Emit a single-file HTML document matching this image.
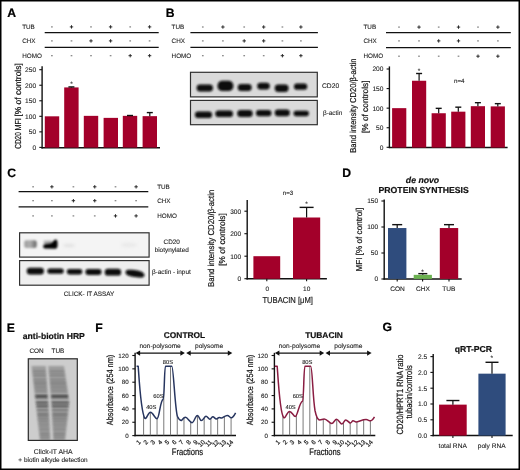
<!DOCTYPE html>
<html><head><meta charset="utf-8"><style>
html,body{margin:0;padding:0;background:#fff;}
#fig{position:relative;width:520px;height:470px;overflow:hidden;background:#fff;}
svg{position:absolute;left:0;top:0;filter:blur(0.3px);}
svg text{font-family:"Liberation Sans", sans-serif;text-rendering:geometricPrecision;}
</style></head><body>
<div id="fig">
<svg width="520" height="470" viewBox="0 0 520 470">
<rect x="0" y="0" width="520" height="470" fill="#fff"/>
<text x="7.30" y="16.80" font-size="12.2" text-anchor="start" fill="#000" stroke="#000" stroke-width="0.2" font-weight="bold">A</text>
<text x="22.20" y="29.17" font-size="6.3" text-anchor="start" fill="#222" stroke="#222" stroke-width="0.1">TUB</text>
<rect x="51.05" y="26.30" width="1.7" height="1.2" fill="#808080"/>
<path d="M 69.80,26.90 h 3.4 M 71.50,25.20 v 3.4" stroke="#222" stroke-width="0.95"/>
<rect x="90.15" y="26.30" width="1.7" height="1.2" fill="#808080"/>
<path d="M 108.90,26.90 h 3.4 M 110.60,25.20 v 3.4" stroke="#222" stroke-width="0.95"/>
<rect x="129.35" y="26.30" width="1.7" height="1.2" fill="#808080"/>
<path d="M 147.90,26.90 h 3.4 M 149.60,25.20 v 3.4" stroke="#222" stroke-width="0.95"/>
<text x="22.20" y="43.17" font-size="6.3" text-anchor="start" fill="#222" stroke="#222" stroke-width="0.1">CHX</text>
<rect x="51.05" y="40.30" width="1.7" height="1.2" fill="#808080"/>
<rect x="70.65" y="40.30" width="1.7" height="1.2" fill="#808080"/>
<path d="M 89.30,40.90 h 3.4 M 91.00,39.20 v 3.4" stroke="#222" stroke-width="0.95"/>
<path d="M 108.90,40.90 h 3.4 M 110.60,39.20 v 3.4" stroke="#222" stroke-width="0.95"/>
<rect x="129.35" y="40.30" width="1.7" height="1.2" fill="#808080"/>
<rect x="148.75" y="40.30" width="1.7" height="1.2" fill="#808080"/>
<text x="22.20" y="57.97" font-size="6.3" text-anchor="start" fill="#222" stroke="#222" stroke-width="0.1">HOMO</text>
<rect x="51.05" y="55.10" width="1.7" height="1.2" fill="#808080"/>
<rect x="70.65" y="55.10" width="1.7" height="1.2" fill="#808080"/>
<rect x="90.15" y="55.10" width="1.7" height="1.2" fill="#808080"/>
<rect x="109.75" y="55.10" width="1.7" height="1.2" fill="#808080"/>
<path d="M 128.50,55.70 h 3.4 M 130.20,54.00 v 3.4" stroke="#222" stroke-width="0.95"/>
<path d="M 147.90,55.70 h 3.4 M 149.60,54.00 v 3.4" stroke="#222" stroke-width="0.95"/>
<line x1="44.70" y1="32.60" x2="158.70" y2="32.60" stroke="#111" stroke-width="1.3"/>
<line x1="44.70" y1="47.40" x2="158.70" y2="47.40" stroke="#111" stroke-width="1.3"/>
<line x1="42.10" y1="66.30" x2="42.10" y2="148.40" stroke="#111" stroke-width="1.4"/>
<line x1="39.30" y1="147.40" x2="42.10" y2="147.40" stroke="#111" stroke-width="1.1"/>
<text x="36.10" y="149.78" font-size="6.6" text-anchor="end" fill="#222" stroke="#222" stroke-width="0.1">0</text>
<line x1="39.30" y1="131.86" x2="42.10" y2="131.86" stroke="#111" stroke-width="1.1"/>
<text x="36.10" y="134.24" font-size="6.6" text-anchor="end" fill="#222" stroke="#222" stroke-width="0.1">50</text>
<line x1="39.30" y1="116.32" x2="42.10" y2="116.32" stroke="#111" stroke-width="1.1"/>
<text x="36.10" y="118.70" font-size="6.6" text-anchor="end" fill="#222" stroke="#222" stroke-width="0.1">100</text>
<line x1="39.30" y1="100.78" x2="42.10" y2="100.78" stroke="#111" stroke-width="1.1"/>
<text x="36.10" y="103.16" font-size="6.6" text-anchor="end" fill="#222" stroke="#222" stroke-width="0.1">150</text>
<line x1="39.30" y1="85.24" x2="42.10" y2="85.24" stroke="#111" stroke-width="1.1"/>
<text x="36.10" y="87.62" font-size="6.6" text-anchor="end" fill="#222" stroke="#222" stroke-width="0.1">200</text>
<line x1="39.30" y1="69.70" x2="42.10" y2="69.70" stroke="#111" stroke-width="1.1"/>
<text x="36.10" y="72.08" font-size="6.6" text-anchor="end" fill="#222" stroke="#222" stroke-width="0.1">250</text>
<line x1="41.40" y1="147.70" x2="160.00" y2="147.70" stroke="#111" stroke-width="1.5"/>
<rect x="44.80" y="116.32" width="14.40" height="31.28" fill="#a3002a"/>
<rect x="64.20" y="87.42" width="14.40" height="60.18" fill="#a3002a"/>
<line x1="71.40" y1="87.42" x2="71.40" y2="86.95" stroke="#111" stroke-width="1.2"/>
<line x1="68.40" y1="86.95" x2="74.40" y2="86.95" stroke="#111" stroke-width="1.4"/>
<rect x="83.80" y="115.85" width="14.40" height="31.75" fill="#a3002a"/>
<rect x="103.60" y="117.87" width="14.40" height="29.73" fill="#a3002a"/>
<rect x="122.80" y="115.85" width="14.40" height="31.75" fill="#a3002a"/>
<line x1="130.00" y1="115.85" x2="130.00" y2="115.51" stroke="#111" stroke-width="1.2"/>
<line x1="127.00" y1="115.51" x2="133.00" y2="115.51" stroke="#111" stroke-width="1.4"/>
<rect x="142.60" y="116.16" width="14.40" height="31.44" fill="#a3002a"/>
<line x1="149.80" y1="116.16" x2="149.80" y2="112.59" stroke="#111" stroke-width="1.2"/>
<line x1="146.80" y1="112.59" x2="152.80" y2="112.59" stroke="#111" stroke-width="1.4"/>
<text x="71.40" y="85.84" font-size="6.5" text-anchor="middle" fill="#222" stroke="#222" stroke-width="0.1">*</text>
<text x="17.40" y="151.93" font-size="8.7" text-anchor="start" fill="#111" stroke="#111" stroke-width="0.2" textLength="16.6" lengthAdjust="spacingAndGlyphs" transform="rotate(-90 17.40 148.80)">CD20</text>
<text x="17.40" y="133.73" font-size="8.7" text-anchor="start" fill="#111" stroke="#111" stroke-width="0.2" textLength="12.4" lengthAdjust="spacingAndGlyphs" transform="rotate(-90 17.40 130.60)">MFI</text>
<text x="17.40" y="119.73" font-size="8.7" text-anchor="start" fill="#111" stroke="#111" stroke-width="0.2" textLength="53.4" lengthAdjust="spacingAndGlyphs" transform="rotate(-90 17.40 116.60)">[% of controls]</text>
<text x="165.80" y="16.90" font-size="12.2" text-anchor="start" fill="#000" stroke="#000" stroke-width="0.2" font-weight="bold">B</text>
<text x="171.60" y="29.27" font-size="6.3" text-anchor="start" fill="#222" stroke="#222" stroke-width="0.1">TUB</text>
<rect x="201.95" y="26.40" width="1.7" height="1.2" fill="#808080"/>
<path d="M 221.20,27.00 h 3.4 M 222.90,25.30 v 3.4" stroke="#222" stroke-width="0.95"/>
<rect x="243.35" y="26.40" width="1.7" height="1.2" fill="#808080"/>
<path d="M 262.00,27.00 h 3.4 M 263.70,25.30 v 3.4" stroke="#222" stroke-width="0.95"/>
<rect x="281.55" y="26.40" width="1.7" height="1.2" fill="#808080"/>
<path d="M 299.20,27.00 h 3.4 M 300.90,25.30 v 3.4" stroke="#222" stroke-width="0.95"/>
<text x="171.60" y="43.17" font-size="6.3" text-anchor="start" fill="#222" stroke="#222" stroke-width="0.1">CHX</text>
<rect x="201.95" y="40.30" width="1.7" height="1.2" fill="#808080"/>
<rect x="222.05" y="40.30" width="1.7" height="1.2" fill="#808080"/>
<path d="M 242.50,40.90 h 3.4 M 244.20,39.20 v 3.4" stroke="#222" stroke-width="0.95"/>
<path d="M 262.00,40.90 h 3.4 M 263.70,39.20 v 3.4" stroke="#222" stroke-width="0.95"/>
<rect x="281.55" y="40.30" width="1.7" height="1.2" fill="#808080"/>
<rect x="300.05" y="40.30" width="1.7" height="1.2" fill="#808080"/>
<text x="171.60" y="57.97" font-size="6.3" text-anchor="start" fill="#222" stroke="#222" stroke-width="0.1">HOMO</text>
<rect x="201.95" y="55.10" width="1.7" height="1.2" fill="#808080"/>
<rect x="222.05" y="55.10" width="1.7" height="1.2" fill="#808080"/>
<rect x="243.35" y="55.10" width="1.7" height="1.2" fill="#808080"/>
<rect x="262.85" y="55.10" width="1.7" height="1.2" fill="#808080"/>
<path d="M 280.70,55.70 h 3.4 M 282.40,54.00 v 3.4" stroke="#222" stroke-width="0.95"/>
<path d="M 299.20,55.70 h 3.4 M 300.90,54.00 v 3.4" stroke="#222" stroke-width="0.95"/>
<line x1="190.40" y1="32.60" x2="317.90" y2="32.60" stroke="#111" stroke-width="1.3"/>
<line x1="190.40" y1="47.40" x2="317.90" y2="47.40" stroke="#111" stroke-width="1.3"/>
<defs><filter id="bl" x="-50%" y="-80%" width="200%" height="260%"><feGaussianBlur stdDeviation="1.1"/></filter><filter id="bl2" x="-50%" y="-80%" width="200%" height="260%"><feGaussianBlur stdDeviation="1.6"/></filter><filter id="bl3" x="-20%" y="-40%" width="140%" height="180%"><feGaussianBlur stdDeviation="0.8"/></filter></defs>
<rect x="190.50" y="72.30" width="126.80" height="24.60" fill="#dadada" stroke="#303030" stroke-width="1.2"/>
<rect x="190.50" y="100.40" width="126.80" height="24.30" fill="#dadada" stroke="#303030" stroke-width="1.2"/>
<rect x="196.70" y="84.60" width="16.20" height="7.00" rx="3.32" ry="2.98" fill="#0a0a0a" opacity="1" filter="url(#bl3)"/>
<rect x="217.60" y="80.80" width="15.70" height="10.20" rx="4.85" ry="4.34" fill="#0a0a0a" opacity="1" filter="url(#bl3)"/>
<rect x="237.80" y="84.00" width="13.80" height="7.00" rx="3.32" ry="2.98" fill="#0a0a0a" opacity="1" filter="url(#bl3)"/>
<rect x="257.30" y="82.70" width="12.40" height="6.70" rx="3.18" ry="2.85" fill="#0a0a0a" opacity="1" filter="url(#bl3)"/>
<rect x="274.80" y="84.60" width="13.70" height="7.40" rx="3.52" ry="3.15" fill="#0a0a0a" opacity="1" filter="url(#bl3)"/>
<rect x="294.00" y="83.60" width="13.20" height="6.10" rx="2.90" ry="2.59" fill="#0a0a0a" opacity="1" filter="url(#bl3)"/>
<rect x="195.00" y="111.40" width="17.00" height="6.60" rx="3.13" ry="2.80" fill="#0a0a0a" opacity="1" filter="url(#bl3)"/>
<rect x="215.40" y="110.50" width="17.50" height="6.60" rx="3.13" ry="2.80" fill="#0a0a0a" opacity="1" filter="url(#bl3)"/>
<rect x="237.30" y="110.10" width="15.30" height="7.00" rx="3.32" ry="2.98" fill="#0a0a0a" opacity="1" filter="url(#bl3)"/>
<rect x="256.00" y="110.10" width="15.40" height="6.10" rx="2.90" ry="2.59" fill="#0a0a0a" opacity="1" filter="url(#bl3)"/>
<rect x="274.80" y="109.50" width="15.00" height="6.70" rx="3.18" ry="2.85" fill="#0a0a0a" opacity="1" filter="url(#bl3)"/>
<rect x="293.60" y="110.70" width="15.30" height="5.50" rx="2.61" ry="2.34" fill="#0a0a0a" opacity="1" filter="url(#bl3)"/>
<text x="322.00" y="88.41" font-size="6.7" text-anchor="start" fill="#222" stroke="#222" stroke-width="0.1">CD20</text>
<text x="323.00" y="114.90" font-size="6.4" text-anchor="start" fill="#222" stroke="#222" stroke-width="0.1">β-actin</text>
<text x="363.50" y="29.37" font-size="6.3" text-anchor="start" fill="#222" stroke="#222" stroke-width="0.1">TUB</text>
<rect x="398.15" y="26.50" width="1.7" height="1.2" fill="#808080"/>
<path d="M 417.30,27.10 h 3.4 M 419.00,25.40 v 3.4" stroke="#222" stroke-width="0.95"/>
<rect x="437.85" y="26.50" width="1.7" height="1.2" fill="#808080"/>
<path d="M 456.80,27.10 h 3.4 M 458.50,25.40 v 3.4" stroke="#222" stroke-width="0.95"/>
<rect x="477.15" y="26.50" width="1.7" height="1.2" fill="#808080"/>
<path d="M 496.20,27.10 h 3.4 M 497.90,25.40 v 3.4" stroke="#222" stroke-width="0.95"/>
<text x="363.50" y="43.17" font-size="6.3" text-anchor="start" fill="#222" stroke="#222" stroke-width="0.1">CHX</text>
<rect x="398.15" y="40.30" width="1.7" height="1.2" fill="#808080"/>
<rect x="418.15" y="40.30" width="1.7" height="1.2" fill="#808080"/>
<path d="M 437.00,40.90 h 3.4 M 438.70,39.20 v 3.4" stroke="#222" stroke-width="0.95"/>
<path d="M 456.80,40.90 h 3.4 M 458.50,39.20 v 3.4" stroke="#222" stroke-width="0.95"/>
<rect x="477.15" y="40.30" width="1.7" height="1.2" fill="#808080"/>
<rect x="497.05" y="40.30" width="1.7" height="1.2" fill="#808080"/>
<text x="363.50" y="58.47" font-size="6.3" text-anchor="start" fill="#222" stroke="#222" stroke-width="0.1">HOMO</text>
<rect x="398.15" y="55.60" width="1.7" height="1.2" fill="#808080"/>
<rect x="418.15" y="55.60" width="1.7" height="1.2" fill="#808080"/>
<rect x="437.85" y="55.60" width="1.7" height="1.2" fill="#808080"/>
<rect x="457.65" y="55.60" width="1.7" height="1.2" fill="#808080"/>
<path d="M 476.30,56.20 h 3.4 M 478.00,54.50 v 3.4" stroke="#222" stroke-width="0.95"/>
<path d="M 496.20,56.20 h 3.4 M 497.90,54.50 v 3.4" stroke="#222" stroke-width="0.95"/>
<line x1="386.00" y1="32.60" x2="510.80" y2="32.60" stroke="#111" stroke-width="1.3"/>
<line x1="386.00" y1="47.60" x2="510.80" y2="47.60" stroke="#111" stroke-width="1.3"/>
<line x1="389.40" y1="66.40" x2="389.40" y2="148.10" stroke="#111" stroke-width="1.4"/>
<line x1="386.60" y1="147.30" x2="389.40" y2="147.30" stroke="#111" stroke-width="1.1"/>
<text x="383.40" y="149.68" font-size="6.6" text-anchor="end" fill="#222" stroke="#222" stroke-width="0.1">0</text>
<line x1="386.60" y1="127.73" x2="389.40" y2="127.73" stroke="#111" stroke-width="1.1"/>
<text x="383.40" y="130.10" font-size="6.6" text-anchor="end" fill="#222" stroke="#222" stroke-width="0.1">50</text>
<line x1="386.60" y1="108.15" x2="389.40" y2="108.15" stroke="#111" stroke-width="1.1"/>
<text x="383.40" y="110.53" font-size="6.6" text-anchor="end" fill="#222" stroke="#222" stroke-width="0.1">100</text>
<line x1="386.60" y1="88.58" x2="389.40" y2="88.58" stroke="#111" stroke-width="1.1"/>
<text x="383.40" y="90.95" font-size="6.6" text-anchor="end" fill="#222" stroke="#222" stroke-width="0.1">150</text>
<line x1="386.60" y1="69.00" x2="389.40" y2="69.00" stroke="#111" stroke-width="1.1"/>
<text x="383.40" y="71.38" font-size="6.6" text-anchor="end" fill="#222" stroke="#222" stroke-width="0.1">200</text>
<line x1="388.70" y1="147.60" x2="507.60" y2="147.60" stroke="#111" stroke-width="1.5"/>
<rect x="392.10" y="108.15" width="14.20" height="39.45" fill="#a3002a"/>
<rect x="412.00" y="80.75" width="14.20" height="66.85" fill="#a3002a"/>
<line x1="419.10" y1="80.75" x2="419.10" y2="73.50" stroke="#111" stroke-width="1.2"/>
<line x1="416.10" y1="73.50" x2="422.10" y2="73.50" stroke="#111" stroke-width="1.4"/>
<rect x="431.60" y="113.24" width="14.20" height="34.36" fill="#a3002a"/>
<line x1="438.70" y1="113.24" x2="438.70" y2="108.35" stroke="#111" stroke-width="1.2"/>
<line x1="435.70" y1="108.35" x2="441.70" y2="108.35" stroke="#111" stroke-width="1.4"/>
<rect x="451.20" y="111.67" width="14.20" height="35.93" fill="#a3002a"/>
<line x1="458.30" y1="111.67" x2="458.30" y2="107.17" stroke="#111" stroke-width="1.2"/>
<line x1="455.30" y1="107.17" x2="461.30" y2="107.17" stroke="#111" stroke-width="1.4"/>
<rect x="470.80" y="106.19" width="14.20" height="41.41" fill="#a3002a"/>
<line x1="477.90" y1="106.19" x2="477.90" y2="102.67" stroke="#111" stroke-width="1.2"/>
<line x1="474.90" y1="102.67" x2="480.90" y2="102.67" stroke="#111" stroke-width="1.4"/>
<rect x="490.70" y="106.39" width="14.20" height="41.21" fill="#a3002a"/>
<line x1="497.80" y1="106.39" x2="497.80" y2="103.65" stroke="#111" stroke-width="1.2"/>
<line x1="494.80" y1="103.65" x2="500.80" y2="103.65" stroke="#111" stroke-width="1.4"/>
<text x="419.10" y="73.34" font-size="6.5" text-anchor="middle" fill="#222" stroke="#222" stroke-width="0.1">*</text>
<text x="459.30" y="82.83" font-size="6.2" text-anchor="middle" fill="#222" stroke="#222" stroke-width="0.1">n=4</text>
<text x="353.20" y="108.70" font-size="8.6" text-anchor="middle" fill="#111" stroke="#111" stroke-width="0.2" textLength="94.2" lengthAdjust="spacingAndGlyphs" transform="rotate(-90 353.20 105.60)">Band intensity CD20/β-actin</text>
<text x="364.50" y="109.90" font-size="8.6" text-anchor="middle" fill="#111" stroke="#111" stroke-width="0.2" textLength="52.6" lengthAdjust="spacingAndGlyphs" transform="rotate(-90 364.50 106.80)">[% of controls]</text>
<text x="7.30" y="176.90" font-size="12.2" text-anchor="start" fill="#000" stroke="#000" stroke-width="0.2" font-weight="bold">C</text>
<text x="157.20" y="189.07" font-size="6.3" text-anchor="start" fill="#222" stroke="#222" stroke-width="0.1">TUB</text>
<rect x="32.25" y="186.20" width="1.7" height="1.2" fill="#808080"/>
<path d="M 50.20,186.80 h 3.4 M 51.90,185.10 v 3.4" stroke="#222" stroke-width="0.95"/>
<rect x="72.55" y="186.20" width="1.7" height="1.2" fill="#808080"/>
<path d="M 93.05,186.80 h 3.4 M 94.75,185.10 v 3.4" stroke="#222" stroke-width="0.95"/>
<rect x="114.65" y="186.20" width="1.7" height="1.2" fill="#808080"/>
<path d="M 134.40,186.80 h 3.4 M 136.10,185.10 v 3.4" stroke="#222" stroke-width="0.95"/>
<text x="157.20" y="202.97" font-size="6.3" text-anchor="start" fill="#222" stroke="#222" stroke-width="0.1">CHX</text>
<rect x="32.25" y="200.10" width="1.7" height="1.2" fill="#808080"/>
<rect x="51.05" y="200.10" width="1.7" height="1.2" fill="#808080"/>
<path d="M 71.70,200.70 h 3.4 M 73.40,199.00 v 3.4" stroke="#222" stroke-width="0.95"/>
<path d="M 93.05,200.70 h 3.4 M 94.75,199.00 v 3.4" stroke="#222" stroke-width="0.95"/>
<rect x="114.65" y="200.10" width="1.7" height="1.2" fill="#808080"/>
<rect x="135.25" y="200.10" width="1.7" height="1.2" fill="#808080"/>
<text x="157.20" y="218.17" font-size="6.3" text-anchor="start" fill="#222" stroke="#222" stroke-width="0.1">HOMO</text>
<rect x="32.25" y="215.30" width="1.7" height="1.2" fill="#808080"/>
<rect x="51.05" y="215.30" width="1.7" height="1.2" fill="#808080"/>
<rect x="72.55" y="215.30" width="1.7" height="1.2" fill="#808080"/>
<rect x="93.90" y="215.30" width="1.7" height="1.2" fill="#808080"/>
<path d="M 113.80,215.90 h 3.4 M 115.50,214.20 v 3.4" stroke="#222" stroke-width="0.95"/>
<path d="M 134.40,215.90 h 3.4 M 136.10,214.20 v 3.4" stroke="#222" stroke-width="0.95"/>
<line x1="18.60" y1="191.70" x2="148.30" y2="191.70" stroke="#111" stroke-width="1.3"/>
<line x1="18.60" y1="206.80" x2="148.30" y2="206.80" stroke="#111" stroke-width="1.3"/>
<rect x="19.60" y="232.80" width="129.50" height="24.30" fill="#f4f4f4" stroke="#303030" stroke-width="1.2"/>
<rect x="19.60" y="260.60" width="129.50" height="24.60" fill="#efefef" stroke="#303030" stroke-width="1.2"/>
<linearGradient id="g1" x1="0" x2="1" y1="0" y2="0"><stop offset="0" stop-color="#9a9a9a"/><stop offset="0.45" stop-color="#b0b0b0"/><stop offset="0.75" stop-color="#8a8a8a"/><stop offset="1" stop-color="#5a5a5a"/></linearGradient>
<rect x="24.3" y="240.3" width="12.3" height="7.8" rx="2" fill="url(#g1)" filter="url(#bl3)"/>
<path d="M 43.8,240.8 L 51.5,240.6 L 51.5,244.5 L 43.8,244.8 Z" fill="#9a9a9a" opacity="0.8" filter="url(#bl3)"/>
<path d="M 43.2,246.3 C 43.2,244.2 46,243.8 50,243.4 C 52.5,243.1 53.5,240.2 55.5,239.6 C 57.3,239.2 57.6,241.5 57.6,244.2 C 57.6,247.5 57,248.8 55,248.8 L 45,248.6 C 43.5,248.5 43.2,247.6 43.2,246.3 Z" fill="#060606" filter="url(#bl3)"/>
<ellipse cx="69.00" cy="245.50" rx="6.00" ry="1.75" fill="#d0d0d0" opacity="0.5" filter="url(#bl2)"/>
<ellipse cx="129.00" cy="245.00" rx="8.00" ry="2.50" fill="#e0e0e0" opacity="0.5" filter="url(#bl2)"/>
<rect x="26.80" y="267.70" width="17.10" height="6.70" rx="3.18" ry="2.85" fill="#0a0a0a" opacity="1" filter="url(#bl3)"/>
<rect x="47.30" y="268.40" width="16.40" height="5.40" rx="2.57" ry="2.30" fill="#0a0a0a" opacity="1" filter="url(#bl3)"/>
<rect x="66.80" y="269.00" width="15.50" height="5.40" rx="2.56" ry="2.29" fill="#0a0a0a" opacity="1" filter="url(#bl3)"/>
<rect x="85.50" y="269.10" width="15.90" height="5.80" rx="2.75" ry="2.46" fill="#0a0a0a" opacity="1" filter="url(#bl3)"/>
<rect x="104.80" y="268.70" width="16.30" height="6.90" rx="3.28" ry="2.93" fill="#0a0a0a" opacity="1" filter="url(#bl3)"/>
<path d="M 125.5,272.5 C 125.5,269.5 128,269.6 132,269.8 C 138,270 144.5,272 144.5,275 C 144.5,278 141,277.8 137,277.3 C 131,276.5 125.5,275.5 125.5,272.5 Z" fill="#0a0a0a" filter="url(#bl3)"/>
<text x="171.70" y="243.60" font-size="6.4" text-anchor="middle" fill="#222" stroke="#222" stroke-width="0.1">CD20</text>
<text x="171.70" y="251.60" font-size="6.4" text-anchor="middle" fill="#222" stroke="#222" stroke-width="0.1">biotynylated</text>
<text x="151.90" y="274.40" font-size="6.4" text-anchor="start" fill="#222" stroke="#222" stroke-width="0.1">β-actin - input</text>
<text x="89.00" y="295.80" font-size="6.4" text-anchor="middle" fill="#222" stroke="#222" stroke-width="0.1">CLICK- IT ASSAY</text>
<line x1="247.20" y1="199.90" x2="247.20" y2="279.40" stroke="#111" stroke-width="1.4"/>
<line x1="244.40" y1="278.70" x2="247.20" y2="278.70" stroke="#111" stroke-width="1.1"/>
<text x="241.20" y="281.08" font-size="6.6" text-anchor="end" fill="#222" stroke="#222" stroke-width="0.1">0</text>
<line x1="244.40" y1="256.20" x2="247.20" y2="256.20" stroke="#111" stroke-width="1.1"/>
<text x="241.20" y="258.58" font-size="6.6" text-anchor="end" fill="#222" stroke="#222" stroke-width="0.1">100</text>
<line x1="244.40" y1="233.70" x2="247.20" y2="233.70" stroke="#111" stroke-width="1.1"/>
<text x="241.20" y="236.08" font-size="6.6" text-anchor="end" fill="#222" stroke="#222" stroke-width="0.1">200</text>
<line x1="244.40" y1="211.20" x2="247.20" y2="211.20" stroke="#111" stroke-width="1.1"/>
<text x="241.20" y="213.58" font-size="6.6" text-anchor="end" fill="#222" stroke="#222" stroke-width="0.1">300</text>
<line x1="246.50" y1="278.80" x2="326.90" y2="278.80" stroke="#111" stroke-width="1.5"/>
<rect x="253.40" y="256.20" width="26.80" height="22.60" fill="#a3002a"/>
<line x1="266.80" y1="278.80" x2="266.80" y2="281.20" stroke="#111" stroke-width="1.1"/>
<line x1="306.60" y1="278.80" x2="306.60" y2="281.20" stroke="#111" stroke-width="1.1"/>
<rect x="293.00" y="217.50" width="27.20" height="61.30" fill="#a3002a"/>
<line x1="306.60" y1="217.50" x2="306.60" y2="207.38" stroke="#111" stroke-width="1.2"/>
<line x1="299.60" y1="207.38" x2="313.60" y2="207.38" stroke="#111" stroke-width="1.4"/>
<text x="306.60" y="205.84" font-size="6.5" text-anchor="middle" fill="#222" stroke="#222" stroke-width="0.1">*</text>
<text x="288.00" y="195.03" font-size="6.2" text-anchor="middle" fill="#222" stroke="#222" stroke-width="0.1">n=3</text>
<text x="267.20" y="290.74" font-size="6.5" text-anchor="middle" fill="#222" stroke="#222" stroke-width="0.1">0</text>
<text x="306.70" y="290.74" font-size="6.5" text-anchor="middle" fill="#222" stroke="#222" stroke-width="0.1">10</text>
<text x="287.70" y="303.40" font-size="8.6" text-anchor="middle" fill="#222" stroke="#222" stroke-width="0.2" textLength="50.6" lengthAdjust="spacingAndGlyphs">TUBACIN [μM]</text>
<text x="210.50" y="241.40" font-size="8.6" text-anchor="middle" fill="#111" stroke="#111" stroke-width="0.2" textLength="97.2" lengthAdjust="spacingAndGlyphs" transform="rotate(-90 210.50 238.30)">Band intensity CD20/β-actin</text>
<text x="222.40" y="242.60" font-size="8.6" text-anchor="middle" fill="#111" stroke="#111" stroke-width="0.2" textLength="52.7" lengthAdjust="spacingAndGlyphs" transform="rotate(-90 222.40 239.50)">[% of controls]</text>
<text x="342.30" y="177.00" font-size="12.2" text-anchor="start" fill="#000" stroke="#000" stroke-width="0.2" font-weight="bold">D</text>
<text x="422.50" y="182.53" font-size="8.7" text-anchor="middle" fill="#111" stroke="#111" stroke-width="0.2" font-weight="bold" font-style="italic">de novo</text>
<text x="423.70" y="193.33" font-size="8.7" text-anchor="middle" fill="#111" stroke="#111" stroke-width="0.2" font-weight="bold">PROTEIN SYNTHESIS</text>
<line x1="384.20" y1="199.50" x2="384.20" y2="279.60" stroke="#111" stroke-width="1.4"/>
<line x1="381.40" y1="279.00" x2="384.20" y2="279.00" stroke="#111" stroke-width="1.1"/>
<text x="378.20" y="281.38" font-size="6.6" text-anchor="end" fill="#222" stroke="#222" stroke-width="0.1">0</text>
<line x1="381.40" y1="253.00" x2="384.20" y2="253.00" stroke="#111" stroke-width="1.1"/>
<text x="378.20" y="255.38" font-size="6.6" text-anchor="end" fill="#222" stroke="#222" stroke-width="0.1">50</text>
<line x1="381.40" y1="227.00" x2="384.20" y2="227.00" stroke="#111" stroke-width="1.1"/>
<text x="378.20" y="229.38" font-size="6.6" text-anchor="end" fill="#222" stroke="#222" stroke-width="0.1">100</text>
<line x1="381.40" y1="201.00" x2="384.20" y2="201.00" stroke="#111" stroke-width="1.1"/>
<text x="378.20" y="203.38" font-size="6.6" text-anchor="end" fill="#222" stroke="#222" stroke-width="0.1">150</text>
<line x1="383.50" y1="278.90" x2="461.70" y2="278.90" stroke="#111" stroke-width="1.5"/>
<line x1="397.20" y1="278.90" x2="397.20" y2="281.40" stroke="#111" stroke-width="1.1"/>
<line x1="422.60" y1="278.90" x2="422.60" y2="281.40" stroke="#111" stroke-width="1.1"/>
<line x1="449.00" y1="278.90" x2="449.00" y2="281.40" stroke="#111" stroke-width="1.1"/>
<rect x="388.00" y="228.04" width="18.40" height="50.86" fill="#2f4c7d"/>
<line x1="397.20" y1="228.04" x2="397.20" y2="224.66" stroke="#111" stroke-width="1.2"/>
<line x1="392.20" y1="224.66" x2="402.20" y2="224.66" stroke="#111" stroke-width="1.4"/>
<rect x="413.70" y="274.84" width="18.20" height="4.06" fill="#6bb150"/>
<line x1="422.80" y1="274.84" x2="422.80" y2="273.64" stroke="#111" stroke-width="1.2"/>
<line x1="418.30" y1="273.64" x2="427.30" y2="273.64" stroke="#111" stroke-width="1.4"/>
<rect x="439.80" y="228.04" width="18.40" height="50.86" fill="#a3002a"/>
<line x1="449.00" y1="228.04" x2="449.00" y2="224.66" stroke="#111" stroke-width="1.2"/>
<line x1="444.00" y1="224.66" x2="454.00" y2="224.66" stroke="#111" stroke-width="1.4"/>
<text x="422.60" y="273.84" font-size="6.5" text-anchor="middle" fill="#222" stroke="#222" stroke-width="0.1">*</text>
<text x="397.50" y="291.38" font-size="6.6" text-anchor="middle" fill="#222" stroke="#222" stroke-width="0.1">CON</text>
<text x="423.00" y="291.38" font-size="6.6" text-anchor="middle" fill="#222" stroke="#222" stroke-width="0.1">CHX</text>
<text x="448.80" y="291.38" font-size="6.6" text-anchor="middle" fill="#222" stroke="#222" stroke-width="0.1">TUB</text>
<text x="358.70" y="242.70" font-size="8.6" text-anchor="middle" fill="#111" stroke="#111" stroke-width="0.2" textLength="63.8" lengthAdjust="spacingAndGlyphs" transform="rotate(-90 358.70 239.60)">MFI [% of control]</text>
<text x="6.80" y="331.50" font-size="12.2" text-anchor="start" fill="#000" stroke="#000" stroke-width="0.2" font-weight="bold">E</text>
<text x="22.80" y="339.00" font-size="8.6" text-anchor="start" fill="#111" stroke="#111" stroke-width="0.2" font-weight="bold">anti-biotin HRP</text>
<text x="36.60" y="353.20" font-size="6.4" text-anchor="middle" fill="#222" stroke="#222" stroke-width="0.1">CON</text>
<text x="57.90" y="353.20" font-size="6.4" text-anchor="middle" fill="#222" stroke="#222" stroke-width="0.1">TUB</text>
<rect x="28.30" y="358.80" width="49.00" height="81.60" fill="#cdcdcd"/>
<filter id="bl4" x="-20%" y="-50%" width="140%" height="200%"><feGaussianBlur stdDeviation="0.9"/></filter>
<filter id="bl5" x="-20%" y="-20%" width="140%" height="140%"><feGaussianBlur stdDeviation="1.3"/></filter>
<clipPath id="eclip"><rect x="28.3" y="358.8" width="49" height="81.6"/></clipPath><g clip-path="url(#eclip)">
<path d="M 31.50,366.00 L 35.60,402.00 L 40.00,441.00 L 50.50,441.00 L 48.40,402.00 L 45.80,366.00 Z" fill="#9c9c9c" filter="url(#bl5)"/>
<path d="M 48.20,366.00 L 51.20,402.00 L 53.40,441.00 L 65.00,441.00 L 69.40,402.00 L 64.00,366.00 Z" fill="#9c9c9c" filter="url(#bl5)"/>
<rect x="32.74" y="370.60" width="12.87" height="2.00" fill="#383838" opacity="0.25" filter="url(#bl3)"/>
<rect x="49.27" y="370.60" width="14.97" height="2.00" fill="#383838" opacity="0.25" filter="url(#bl3)"/>
<rect x="33.15" y="374.20" width="12.72" height="2.00" fill="#383838" opacity="0.25" filter="url(#bl3)"/>
<rect x="49.57" y="374.20" width="15.21" height="2.00" fill="#383838" opacity="0.25" filter="url(#bl3)"/>
<rect x="33.68" y="378.70" width="12.52" height="2.40" fill="#383838" opacity="0.20" filter="url(#bl3)"/>
<rect x="49.96" y="378.70" width="15.53" height="2.40" fill="#383838" opacity="0.20" filter="url(#bl3)"/>
<rect x="34.07" y="382.10" width="12.38" height="2.40" fill="#383838" opacity="0.28" filter="url(#bl3)"/>
<rect x="50.24" y="382.10" width="15.75" height="2.40" fill="#383838" opacity="0.28" filter="url(#bl3)"/>
<rect x="34.49" y="385.80" width="12.22" height="2.40" fill="#383838" opacity="0.22" filter="url(#bl3)"/>
<rect x="50.55" y="385.80" width="16.00" height="2.40" fill="#383838" opacity="0.22" filter="url(#bl3)"/>
<rect x="34.90" y="389.50" width="12.07" height="2.20" fill="#383838" opacity="0.20" filter="url(#bl3)"/>
<rect x="50.85" y="389.50" width="16.24" height="2.20" fill="#383838" opacity="0.20" filter="url(#bl3)"/>
<rect x="35.56" y="395.10" width="11.83" height="2.60" fill="#383838" opacity="0.90" filter="url(#bl3)"/>
<rect x="51.33" y="395.10" width="16.63" height="2.60" fill="#383838" opacity="0.90" filter="url(#bl3)"/>
<rect x="36.28" y="401.95" width="11.56" height="1.50" fill="#383838" opacity="0.95" filter="url(#bl3)"/>
<rect x="51.84" y="401.95" width="16.88" height="1.50" fill="#383838" opacity="0.95" filter="url(#bl3)"/>
<rect x="36.66" y="405.35" width="11.36" height="1.50" fill="#383838" opacity="0.90" filter="url(#bl3)"/>
<rect x="52.03" y="405.35" width="16.31" height="1.50" fill="#383838" opacity="0.90" filter="url(#bl3)"/>
<rect x="37.11" y="409.15" width="11.12" height="1.90" fill="#383838" opacity="0.35" filter="url(#bl3)"/>
<rect x="52.26" y="409.15" width="15.63" height="1.90" fill="#383838" opacity="0.35" filter="url(#bl3)"/>
<rect x="37.59" y="413.25" width="10.87" height="2.10" fill="#383838" opacity="0.45" filter="url(#bl3)"/>
<rect x="52.49" y="413.25" width="14.92" height="2.10" fill="#383838" opacity="0.45" filter="url(#bl3)"/>
<rect x="37.94" y="416.50" width="10.69" height="1.80" fill="#383838" opacity="0.30" filter="url(#bl3)"/>
<rect x="52.67" y="416.50" width="14.39" height="1.80" fill="#383838" opacity="0.30" filter="url(#bl3)"/>
<rect x="38.22" y="419.00" width="10.54" height="1.80" fill="#383838" opacity="0.22" filter="url(#bl3)"/>
<rect x="52.81" y="419.00" width="13.97" height="1.80" fill="#383838" opacity="0.22" filter="url(#bl3)"/>
<rect x="38.51" y="421.60" width="10.39" height="1.80" fill="#383838" opacity="0.22" filter="url(#bl3)"/>
<rect x="52.96" y="421.60" width="13.53" height="1.80" fill="#383838" opacity="0.22" filter="url(#bl3)"/>
<rect x="38.86" y="424.70" width="10.21" height="1.80" fill="#383838" opacity="0.22" filter="url(#bl3)"/>
<rect x="53.13" y="424.70" width="13.01" height="1.80" fill="#383838" opacity="0.22" filter="url(#bl3)"/>
<rect x="39.28" y="428.30" width="9.99" height="2.00" fill="#383838" opacity="0.22" filter="url(#bl3)"/>
<rect x="53.34" y="428.30" width="12.38" height="2.00" fill="#383838" opacity="0.22" filter="url(#bl3)"/>
<rect x="39.80" y="432.80" width="9.72" height="2.20" fill="#383838" opacity="0.25" filter="url(#bl3)"/>
<rect x="53.60" y="432.80" width="11.60" height="2.20" fill="#383838" opacity="0.25" filter="url(#bl3)"/>
<rect x="40.15" y="436.00" width="9.54" height="2.00" fill="#383838" opacity="0.22" filter="url(#bl3)"/>
<rect x="53.77" y="436.00" width="11.08" height="2.00" fill="#383838" opacity="0.22" filter="url(#bl3)"/>
</g>
<rect x="28.30" y="358.80" width="49.00" height="81.60" fill="none" stroke="#2a2a2a" stroke-width="1.2"/>
<text x="53.20" y="453.78" font-size="6.9" text-anchor="middle" fill="#222" stroke="#222" stroke-width="0.1">Click-IT AHA</text>
<text x="53.00" y="461.62" font-size="6.45" text-anchor="middle" fill="#222" stroke="#222" stroke-width="0.1">+ biotin alkyde detection</text>
<text x="95.30" y="331.50" font-size="12.2" text-anchor="start" fill="#000" stroke="#000" stroke-width="0.2" font-weight="bold">F</text>
<text x="184.50" y="338.22" font-size="8.4" text-anchor="middle" fill="#111" stroke="#111" stroke-width="0.2" font-weight="bold">CONTROL</text>
<line x1="135.10" y1="352.80" x2="135.10" y2="436.30" stroke="#111" stroke-width="1.4"/>
<line x1="132.30" y1="435.60" x2="135.10" y2="435.60" stroke="#111" stroke-width="1.1"/>
<text x="128.60" y="437.83" font-size="6.2" text-anchor="end" fill="#222" stroke="#222" stroke-width="0.1">0</text>
<line x1="132.30" y1="422.25" x2="135.10" y2="422.25" stroke="#111" stroke-width="1.1"/>
<text x="128.60" y="424.48" font-size="6.2" text-anchor="end" fill="#222" stroke="#222" stroke-width="0.1">20</text>
<line x1="132.30" y1="408.90" x2="135.10" y2="408.90" stroke="#111" stroke-width="1.1"/>
<text x="128.60" y="411.13" font-size="6.2" text-anchor="end" fill="#222" stroke="#222" stroke-width="0.1">40</text>
<line x1="132.30" y1="395.55" x2="135.10" y2="395.55" stroke="#111" stroke-width="1.1"/>
<text x="128.60" y="397.78" font-size="6.2" text-anchor="end" fill="#222" stroke="#222" stroke-width="0.1">60</text>
<line x1="132.30" y1="382.20" x2="135.10" y2="382.20" stroke="#111" stroke-width="1.1"/>
<text x="128.60" y="384.43" font-size="6.2" text-anchor="end" fill="#222" stroke="#222" stroke-width="0.1">80</text>
<line x1="132.30" y1="368.85" x2="135.10" y2="368.85" stroke="#111" stroke-width="1.1"/>
<text x="128.60" y="371.08" font-size="6.2" text-anchor="end" fill="#222" stroke="#222" stroke-width="0.1">100</text>
<line x1="132.30" y1="355.50" x2="135.10" y2="355.50" stroke="#111" stroke-width="1.1"/>
<text x="128.60" y="357.73" font-size="6.2" text-anchor="end" fill="#222" stroke="#222" stroke-width="0.1">120</text>
<line x1="134.40" y1="435.60" x2="236.00" y2="435.60" stroke="#111" stroke-width="1.5"/>
<clipPath id="clip135"><path d="M 136.6,366.2 L 138.2,366.2 C 139.5,385 141,412 144.8,418.3 C 146.5,420 148,412.3 150.5,412.3 C 153,412.3 155,419 157.1,418.7 C 159.5,418 160,401 163,399.3 C 164.5,398.5 164.3,366.2 165.5,366.2 L 171.8,366.2 C 173.5,366.2 175,410 177.5,416.5 C 179,420 180.5,420.5 181.5,420.5 C 183,419 183.5,417.3 185.5,417.3 C 187.5,417.3 190,422.7 192.1,422.7 C 194,422.7 195.5,415.5 197.3,415.5 C 199,415.5 200,420.6 201.3,420.6 C 203,420.6 204.5,416.3 206,416.3 C 207.5,416.3 208.5,419.2 209.8,419.2 C 211,419.2 211.8,416.7 212.9,416.7 C 214,416.7 215.2,419 216.3,419 C 217.5,419 218.2,417.5 219.2,417.5 C 220.2,417.5 220.5,418 221.5,418 C 223,418 225,415.5 227.3,415.5 C 229,415.5 230,417.8 231.3,417.8 C 233,417.8 234.5,415 235.6,412.9 L 236.1,435.6 L 135.1,435.6 Z"/></clipPath>
<g clip-path="url(#clip135)">
<line x1="143.60" y1="360.00" x2="143.60" y2="435.60" stroke="#7a7a7a" stroke-width="1.0"/>
<line x1="150.33" y1="360.00" x2="150.33" y2="435.60" stroke="#7a7a7a" stroke-width="1.0"/>
<line x1="157.06" y1="360.00" x2="157.06" y2="435.60" stroke="#7a7a7a" stroke-width="1.0"/>
<line x1="163.79" y1="360.00" x2="163.79" y2="435.60" stroke="#7a7a7a" stroke-width="1.0"/>
<line x1="170.52" y1="360.00" x2="170.52" y2="435.60" stroke="#7a7a7a" stroke-width="1.0"/>
<line x1="177.25" y1="360.00" x2="177.25" y2="435.60" stroke="#7a7a7a" stroke-width="1.0"/>
<line x1="183.98" y1="360.00" x2="183.98" y2="435.60" stroke="#7a7a7a" stroke-width="1.0"/>
<line x1="190.71" y1="360.00" x2="190.71" y2="435.60" stroke="#7a7a7a" stroke-width="1.0"/>
<line x1="197.44" y1="360.00" x2="197.44" y2="435.60" stroke="#7a7a7a" stroke-width="1.0"/>
<line x1="204.17" y1="360.00" x2="204.17" y2="435.60" stroke="#7a7a7a" stroke-width="1.0"/>
<line x1="210.90" y1="360.00" x2="210.90" y2="435.60" stroke="#7a7a7a" stroke-width="1.0"/>
<line x1="217.63" y1="360.00" x2="217.63" y2="435.60" stroke="#7a7a7a" stroke-width="1.0"/>
<line x1="224.36" y1="360.00" x2="224.36" y2="435.60" stroke="#7a7a7a" stroke-width="1.0"/>
<line x1="231.09" y1="360.00" x2="231.09" y2="435.60" stroke="#7a7a7a" stroke-width="1.0"/>
</g>
<path d="M 136.6,366.2 L 138.2,366.2 C 139.5,385 141,412 144.8,418.3 C 146.5,420 148,412.3 150.5,412.3 C 153,412.3 155,419 157.1,418.7 C 159.5,418 160,401 163,399.3 C 164.5,398.5 164.3,366.2 165.5,366.2 L 171.8,366.2 C 173.5,366.2 175,410 177.5,416.5 C 179,420 180.5,420.5 181.5,420.5 C 183,419 183.5,417.3 185.5,417.3 C 187.5,417.3 190,422.7 192.1,422.7 C 194,422.7 195.5,415.5 197.3,415.5 C 199,415.5 200,420.6 201.3,420.6 C 203,420.6 204.5,416.3 206,416.3 C 207.5,416.3 208.5,419.2 209.8,419.2 C 211,419.2 211.8,416.7 212.9,416.7 C 214,416.7 215.2,419 216.3,419 C 217.5,419 218.2,417.5 219.2,417.5 C 220.2,417.5 220.5,418 221.5,418 C 223,418 225,415.5 227.3,415.5 C 229,415.5 230,417.8 231.3,417.8 C 233,417.8 234.5,415 235.6,412.9" fill="none" stroke="#27355f" stroke-width="1.5" stroke-linejoin="round"/>
<line x1="138.60" y1="353.10" x2="181.90" y2="353.10" stroke="#111" stroke-width="1.3"/>
<path d="M 135.60,353.1 l 4.5,-2.6 l 0,5.2 Z" fill="#111"/>
<path d="M 184.90,353.1 l -4.5,-2.6 l 0,5.2 Z" fill="#111"/>
<line x1="189.20" y1="353.10" x2="229.30" y2="353.10" stroke="#111" stroke-width="1.3"/>
<path d="M 186.20,353.1 l 4.5,-2.6 l 0,5.2 Z" fill="#111"/>
<path d="M 232.30,353.1 l -4.5,-2.6 l 0,5.2 Z" fill="#111"/>
<text x="160.10" y="348.38" font-size="6.6" text-anchor="middle" fill="#222" stroke="#222" stroke-width="0.1">non-polysome</text>
<text x="209.10" y="348.38" font-size="6.6" text-anchor="middle" fill="#222" stroke="#222" stroke-width="0.1">polysome</text>
<text x="141.30" y="442.4" font-size="6.3" text-anchor="end" fill="#1a1a1a" stroke="#1a1a1a" stroke-width="0.2" transform="rotate(-45 141.30 442.4)">1</text>
<text x="148.42" y="442.4" font-size="6.3" text-anchor="end" fill="#1a1a1a" stroke="#1a1a1a" stroke-width="0.2" transform="rotate(-45 148.42 442.4)">2</text>
<text x="155.54" y="442.4" font-size="6.3" text-anchor="end" fill="#1a1a1a" stroke="#1a1a1a" stroke-width="0.2" transform="rotate(-45 155.54 442.4)">3</text>
<text x="162.66" y="442.4" font-size="6.3" text-anchor="end" fill="#1a1a1a" stroke="#1a1a1a" stroke-width="0.2" transform="rotate(-45 162.66 442.4)">4</text>
<text x="169.78" y="442.4" font-size="6.3" text-anchor="end" fill="#1a1a1a" stroke="#1a1a1a" stroke-width="0.2" transform="rotate(-45 169.78 442.4)">5</text>
<text x="176.90" y="442.4" font-size="6.3" text-anchor="end" fill="#1a1a1a" stroke="#1a1a1a" stroke-width="0.2" transform="rotate(-45 176.90 442.4)">6</text>
<text x="184.02" y="442.4" font-size="6.3" text-anchor="end" fill="#1a1a1a" stroke="#1a1a1a" stroke-width="0.2" transform="rotate(-45 184.02 442.4)">7</text>
<text x="191.14" y="442.4" font-size="6.3" text-anchor="end" fill="#1a1a1a" stroke="#1a1a1a" stroke-width="0.2" transform="rotate(-45 191.14 442.4)">8</text>
<text x="198.26" y="442.4" font-size="6.3" text-anchor="end" fill="#1a1a1a" stroke="#1a1a1a" stroke-width="0.2" transform="rotate(-45 198.26 442.4)">9</text>
<text x="205.38" y="442.4" font-size="6.3" text-anchor="end" fill="#1a1a1a" stroke="#1a1a1a" stroke-width="0.2" transform="rotate(-45 205.38 442.4)">10</text>
<text x="212.50" y="442.4" font-size="6.3" text-anchor="end" fill="#1a1a1a" stroke="#1a1a1a" stroke-width="0.2" transform="rotate(-45 212.50 442.4)">11</text>
<text x="219.62" y="442.4" font-size="6.3" text-anchor="end" fill="#1a1a1a" stroke="#1a1a1a" stroke-width="0.2" transform="rotate(-45 219.62 442.4)">12</text>
<text x="226.74" y="442.4" font-size="6.3" text-anchor="end" fill="#1a1a1a" stroke="#1a1a1a" stroke-width="0.2" transform="rotate(-45 226.74 442.4)">13</text>
<text x="233.86" y="442.4" font-size="6.3" text-anchor="end" fill="#1a1a1a" stroke="#1a1a1a" stroke-width="0.2" transform="rotate(-45 233.86 442.4)">14</text>
<text x="187.40" y="454.58" font-size="9.4" text-anchor="middle" fill="#111" stroke="#111" stroke-width="0.2" textLength="31.3" lengthAdjust="spacingAndGlyphs">Fractions</text>
<text x="110.00" y="393.24" font-size="9.0" text-anchor="middle" fill="#111" stroke="#111" stroke-width="0.2" textLength="70.5" lengthAdjust="spacingAndGlyphs" transform="rotate(-90 110.00 390.00)">Absorbance (254 nm)</text>
<text x="324.00" y="338.22" font-size="8.4" text-anchor="middle" fill="#111" stroke="#111" stroke-width="0.2" font-weight="bold">TUBACIN</text>
<line x1="274.40" y1="352.80" x2="274.40" y2="436.30" stroke="#111" stroke-width="1.4"/>
<line x1="271.60" y1="435.60" x2="274.40" y2="435.60" stroke="#111" stroke-width="1.1"/>
<text x="267.90" y="437.83" font-size="6.2" text-anchor="end" fill="#222" stroke="#222" stroke-width="0.1">0</text>
<line x1="271.60" y1="422.25" x2="274.40" y2="422.25" stroke="#111" stroke-width="1.1"/>
<text x="267.90" y="424.48" font-size="6.2" text-anchor="end" fill="#222" stroke="#222" stroke-width="0.1">20</text>
<line x1="271.60" y1="408.90" x2="274.40" y2="408.90" stroke="#111" stroke-width="1.1"/>
<text x="267.90" y="411.13" font-size="6.2" text-anchor="end" fill="#222" stroke="#222" stroke-width="0.1">40</text>
<line x1="271.60" y1="395.55" x2="274.40" y2="395.55" stroke="#111" stroke-width="1.1"/>
<text x="267.90" y="397.78" font-size="6.2" text-anchor="end" fill="#222" stroke="#222" stroke-width="0.1">60</text>
<line x1="271.60" y1="382.20" x2="274.40" y2="382.20" stroke="#111" stroke-width="1.1"/>
<text x="267.90" y="384.43" font-size="6.2" text-anchor="end" fill="#222" stroke="#222" stroke-width="0.1">80</text>
<line x1="271.60" y1="368.85" x2="274.40" y2="368.85" stroke="#111" stroke-width="1.1"/>
<text x="267.90" y="371.08" font-size="6.2" text-anchor="end" fill="#222" stroke="#222" stroke-width="0.1">100</text>
<line x1="271.60" y1="355.50" x2="274.40" y2="355.50" stroke="#111" stroke-width="1.1"/>
<text x="267.90" y="357.73" font-size="6.2" text-anchor="end" fill="#222" stroke="#222" stroke-width="0.1">120</text>
<line x1="273.70" y1="435.60" x2="375.30" y2="435.60" stroke="#111" stroke-width="1.5"/>
<clipPath id="clip274"><path d="M 274.9,366.2 L 277.2,366.2 C 278.5,385 280,413 283.6,417.4 C 285.5,419.5 287,411.4 289.5,411.4 C 292,411.4 293.5,416.5 295.3,416.5 C 297.5,416.5 299,403 302.5,401.1 C 303.8,400.3 303.8,366.2 304.9,366.2 L 310.7,366.2 C 312.3,366.2 312.8,398 315,410.5 C 316.3,417 318,419.9 319.7,419.9 C 321.5,419.9 322.5,419 324.2,419 C 327,419 329.5,423.5 331.8,423.5 C 333.5,423.5 335,419.2 336.5,419.2 C 338.5,419.2 340.2,423.9 341.9,423.9 C 343.5,423.9 344.3,419.9 345.7,419.9 C 347.5,419.9 349,423 350.3,423 C 351.5,423 352,420.8 353,420.8 C 354.2,420.8 355,421.9 356,421.9 C 358.5,421.9 362,419.6 366.1,419.6 C 368,419.6 369,420.8 370.2,420.8 C 372,420.8 373.5,418.5 374.5,416.8 L 375.4,435.6 L 274.4,435.6 Z"/></clipPath>
<g clip-path="url(#clip274)">
<line x1="282.90" y1="360.00" x2="282.90" y2="435.60" stroke="#7a7a7a" stroke-width="1.0"/>
<line x1="289.63" y1="360.00" x2="289.63" y2="435.60" stroke="#7a7a7a" stroke-width="1.0"/>
<line x1="296.36" y1="360.00" x2="296.36" y2="435.60" stroke="#7a7a7a" stroke-width="1.0"/>
<line x1="303.09" y1="360.00" x2="303.09" y2="435.60" stroke="#7a7a7a" stroke-width="1.0"/>
<line x1="309.82" y1="360.00" x2="309.82" y2="435.60" stroke="#7a7a7a" stroke-width="1.0"/>
<line x1="316.55" y1="360.00" x2="316.55" y2="435.60" stroke="#7a7a7a" stroke-width="1.0"/>
<line x1="323.28" y1="360.00" x2="323.28" y2="435.60" stroke="#7a7a7a" stroke-width="1.0"/>
<line x1="330.01" y1="360.00" x2="330.01" y2="435.60" stroke="#7a7a7a" stroke-width="1.0"/>
<line x1="336.74" y1="360.00" x2="336.74" y2="435.60" stroke="#7a7a7a" stroke-width="1.0"/>
<line x1="343.47" y1="360.00" x2="343.47" y2="435.60" stroke="#7a7a7a" stroke-width="1.0"/>
<line x1="350.20" y1="360.00" x2="350.20" y2="435.60" stroke="#7a7a7a" stroke-width="1.0"/>
<line x1="356.93" y1="360.00" x2="356.93" y2="435.60" stroke="#7a7a7a" stroke-width="1.0"/>
<line x1="363.66" y1="360.00" x2="363.66" y2="435.60" stroke="#7a7a7a" stroke-width="1.0"/>
<line x1="370.39" y1="360.00" x2="370.39" y2="435.60" stroke="#7a7a7a" stroke-width="1.0"/>
</g>
<path d="M 274.9,366.2 L 277.2,366.2 C 278.5,385 280,413 283.6,417.4 C 285.5,419.5 287,411.4 289.5,411.4 C 292,411.4 293.5,416.5 295.3,416.5 C 297.5,416.5 299,403 302.5,401.1 C 303.8,400.3 303.8,366.2 304.9,366.2 L 310.7,366.2 C 312.3,366.2 312.8,398 315,410.5 C 316.3,417 318,419.9 319.7,419.9 C 321.5,419.9 322.5,419 324.2,419 C 327,419 329.5,423.5 331.8,423.5 C 333.5,423.5 335,419.2 336.5,419.2 C 338.5,419.2 340.2,423.9 341.9,423.9 C 343.5,423.9 344.3,419.9 345.7,419.9 C 347.5,419.9 349,423 350.3,423 C 351.5,423 352,420.8 353,420.8 C 354.2,420.8 355,421.9 356,421.9 C 358.5,421.9 362,419.6 366.1,419.6 C 368,419.6 369,420.8 370.2,420.8 C 372,420.8 373.5,418.5 374.5,416.8" fill="none" stroke="#8a1d42" stroke-width="1.5" stroke-linejoin="round"/>
<line x1="277.90" y1="353.10" x2="321.20" y2="353.10" stroke="#111" stroke-width="1.3"/>
<path d="M 274.90,353.1 l 4.5,-2.6 l 0,5.2 Z" fill="#111"/>
<path d="M 324.20,353.1 l -4.5,-2.6 l 0,5.2 Z" fill="#111"/>
<line x1="328.50" y1="353.10" x2="368.60" y2="353.10" stroke="#111" stroke-width="1.3"/>
<path d="M 325.50,353.1 l 4.5,-2.6 l 0,5.2 Z" fill="#111"/>
<path d="M 371.60,353.1 l -4.5,-2.6 l 0,5.2 Z" fill="#111"/>
<text x="299.40" y="348.38" font-size="6.6" text-anchor="middle" fill="#222" stroke="#222" stroke-width="0.1">non-polysome</text>
<text x="348.40" y="348.38" font-size="6.6" text-anchor="middle" fill="#222" stroke="#222" stroke-width="0.1">polysome</text>
<text x="280.60" y="442.4" font-size="6.3" text-anchor="end" fill="#1a1a1a" stroke="#1a1a1a" stroke-width="0.2" transform="rotate(-45 280.60 442.4)">1</text>
<text x="287.72" y="442.4" font-size="6.3" text-anchor="end" fill="#1a1a1a" stroke="#1a1a1a" stroke-width="0.2" transform="rotate(-45 287.72 442.4)">2</text>
<text x="294.84" y="442.4" font-size="6.3" text-anchor="end" fill="#1a1a1a" stroke="#1a1a1a" stroke-width="0.2" transform="rotate(-45 294.84 442.4)">3</text>
<text x="301.96" y="442.4" font-size="6.3" text-anchor="end" fill="#1a1a1a" stroke="#1a1a1a" stroke-width="0.2" transform="rotate(-45 301.96 442.4)">4</text>
<text x="309.08" y="442.4" font-size="6.3" text-anchor="end" fill="#1a1a1a" stroke="#1a1a1a" stroke-width="0.2" transform="rotate(-45 309.08 442.4)">5</text>
<text x="316.20" y="442.4" font-size="6.3" text-anchor="end" fill="#1a1a1a" stroke="#1a1a1a" stroke-width="0.2" transform="rotate(-45 316.20 442.4)">6</text>
<text x="323.32" y="442.4" font-size="6.3" text-anchor="end" fill="#1a1a1a" stroke="#1a1a1a" stroke-width="0.2" transform="rotate(-45 323.32 442.4)">7</text>
<text x="330.44" y="442.4" font-size="6.3" text-anchor="end" fill="#1a1a1a" stroke="#1a1a1a" stroke-width="0.2" transform="rotate(-45 330.44 442.4)">8</text>
<text x="337.56" y="442.4" font-size="6.3" text-anchor="end" fill="#1a1a1a" stroke="#1a1a1a" stroke-width="0.2" transform="rotate(-45 337.56 442.4)">9</text>
<text x="344.68" y="442.4" font-size="6.3" text-anchor="end" fill="#1a1a1a" stroke="#1a1a1a" stroke-width="0.2" transform="rotate(-45 344.68 442.4)">10</text>
<text x="351.80" y="442.4" font-size="6.3" text-anchor="end" fill="#1a1a1a" stroke="#1a1a1a" stroke-width="0.2" transform="rotate(-45 351.80 442.4)">11</text>
<text x="358.92" y="442.4" font-size="6.3" text-anchor="end" fill="#1a1a1a" stroke="#1a1a1a" stroke-width="0.2" transform="rotate(-45 358.92 442.4)">12</text>
<text x="366.04" y="442.4" font-size="6.3" text-anchor="end" fill="#1a1a1a" stroke="#1a1a1a" stroke-width="0.2" transform="rotate(-45 366.04 442.4)">13</text>
<text x="373.16" y="442.4" font-size="6.3" text-anchor="end" fill="#1a1a1a" stroke="#1a1a1a" stroke-width="0.2" transform="rotate(-45 373.16 442.4)">14</text>
<text x="325.00" y="454.58" font-size="9.4" text-anchor="middle" fill="#111" stroke="#111" stroke-width="0.2" textLength="31.3" lengthAdjust="spacingAndGlyphs">Fractions</text>
<text x="249.30" y="393.24" font-size="9.0" text-anchor="middle" fill="#111" stroke="#111" stroke-width="0.2" textLength="70.5" lengthAdjust="spacingAndGlyphs" transform="rotate(-90 249.30 390.00)">Absorbance (254 nm)</text>
<text x="151.30" y="409.49" font-size="5.8" text-anchor="middle" fill="#222" stroke="#222" stroke-width="0.1">40S</text>
<text x="158.50" y="398.09" font-size="5.8" text-anchor="middle" fill="#222" stroke="#222" stroke-width="0.1">60S</text>
<text x="168.00" y="364.09" font-size="5.8" text-anchor="middle" fill="#222" stroke="#222" stroke-width="0.1">80S</text>
<text x="290.60" y="409.49" font-size="5.8" text-anchor="middle" fill="#222" stroke="#222" stroke-width="0.1">40S</text>
<text x="297.80" y="398.09" font-size="5.8" text-anchor="middle" fill="#222" stroke="#222" stroke-width="0.1">60S</text>
<text x="307.30" y="364.09" font-size="5.8" text-anchor="middle" fill="#222" stroke="#222" stroke-width="0.1">80S</text>
<text x="382.40" y="331.30" font-size="12.2" text-anchor="start" fill="#000" stroke="#000" stroke-width="0.2" font-weight="bold">G</text>
<text x="473.30" y="351.60" font-size="8.6" text-anchor="middle" fill="#111" stroke="#111" stroke-width="0.2" font-weight="bold">qRT-PCR</text>
<line x1="433.20" y1="354.00" x2="433.20" y2="436.30" stroke="#111" stroke-width="1.4"/>
<line x1="430.40" y1="435.60" x2="433.20" y2="435.60" stroke="#111" stroke-width="1.1"/>
<text x="427.20" y="437.98" font-size="6.6" text-anchor="end" fill="#222" stroke="#222" stroke-width="0.1">0.0</text>
<line x1="430.40" y1="419.80" x2="433.20" y2="419.80" stroke="#111" stroke-width="1.1"/>
<text x="427.20" y="422.18" font-size="6.6" text-anchor="end" fill="#222" stroke="#222" stroke-width="0.1">0.5</text>
<line x1="430.40" y1="404.00" x2="433.20" y2="404.00" stroke="#111" stroke-width="1.1"/>
<text x="427.20" y="406.38" font-size="6.6" text-anchor="end" fill="#222" stroke="#222" stroke-width="0.1">1.0</text>
<line x1="430.40" y1="388.20" x2="433.20" y2="388.20" stroke="#111" stroke-width="1.1"/>
<text x="427.20" y="390.58" font-size="6.6" text-anchor="end" fill="#222" stroke="#222" stroke-width="0.1">1.5</text>
<line x1="430.40" y1="372.40" x2="433.20" y2="372.40" stroke="#111" stroke-width="1.1"/>
<text x="427.20" y="374.78" font-size="6.6" text-anchor="end" fill="#222" stroke="#222" stroke-width="0.1">2.0</text>
<line x1="430.40" y1="356.60" x2="433.20" y2="356.60" stroke="#111" stroke-width="1.1"/>
<text x="427.20" y="358.98" font-size="6.6" text-anchor="end" fill="#222" stroke="#222" stroke-width="0.1">2.5</text>
<line x1="432.50" y1="435.60" x2="512.70" y2="435.60" stroke="#111" stroke-width="1.5"/>
<line x1="452.90" y1="435.60" x2="452.90" y2="438.00" stroke="#111" stroke-width="1.1"/>
<line x1="492.00" y1="435.60" x2="492.00" y2="438.00" stroke="#111" stroke-width="1.1"/>
<rect x="439.10" y="404.63" width="27.60" height="30.97" fill="#a3002a"/>
<line x1="452.90" y1="404.63" x2="452.90" y2="400.52" stroke="#111" stroke-width="1.2"/>
<line x1="446.40" y1="400.52" x2="459.40" y2="400.52" stroke="#111" stroke-width="1.4"/>
<rect x="478.40" y="373.66" width="27.20" height="61.94" fill="#2f4c7d"/>
<line x1="492.00" y1="373.66" x2="492.00" y2="362.29" stroke="#111" stroke-width="1.2"/>
<line x1="485.50" y1="362.29" x2="498.50" y2="362.29" stroke="#111" stroke-width="1.4"/>
<text x="491.80" y="360.14" font-size="6.5" text-anchor="middle" fill="#222" stroke="#222" stroke-width="0.1">*</text>
<text x="452.70" y="447.58" font-size="6.6" text-anchor="middle" fill="#222" stroke="#222" stroke-width="0.1">total RNA</text>
<text x="491.70" y="447.58" font-size="6.6" text-anchor="middle" fill="#222" stroke="#222" stroke-width="0.1">poly RNA</text>
<text x="400.00" y="397.74" font-size="9.0" text-anchor="middle" fill="#111" stroke="#111" stroke-width="0.2" textLength="79.8" lengthAdjust="spacingAndGlyphs" transform="rotate(-90 400.00 394.50)">CD20/HPRT1 RNA ratio</text>
<text x="408.80" y="395.04" font-size="9.0" text-anchor="middle" fill="#111" stroke="#111" stroke-width="0.2" textLength="53.2" lengthAdjust="spacingAndGlyphs" transform="rotate(-90 408.80 391.80)">tubacin/controls</text>
</svg>
<svg width="520" height="470" viewBox="0 0 520 470" style="filter:none">
<rect x="0" y="0" width="520" height="470" fill="none" stroke="#000" stroke-width="3"/>
</svg>
</div>
</body></html>
